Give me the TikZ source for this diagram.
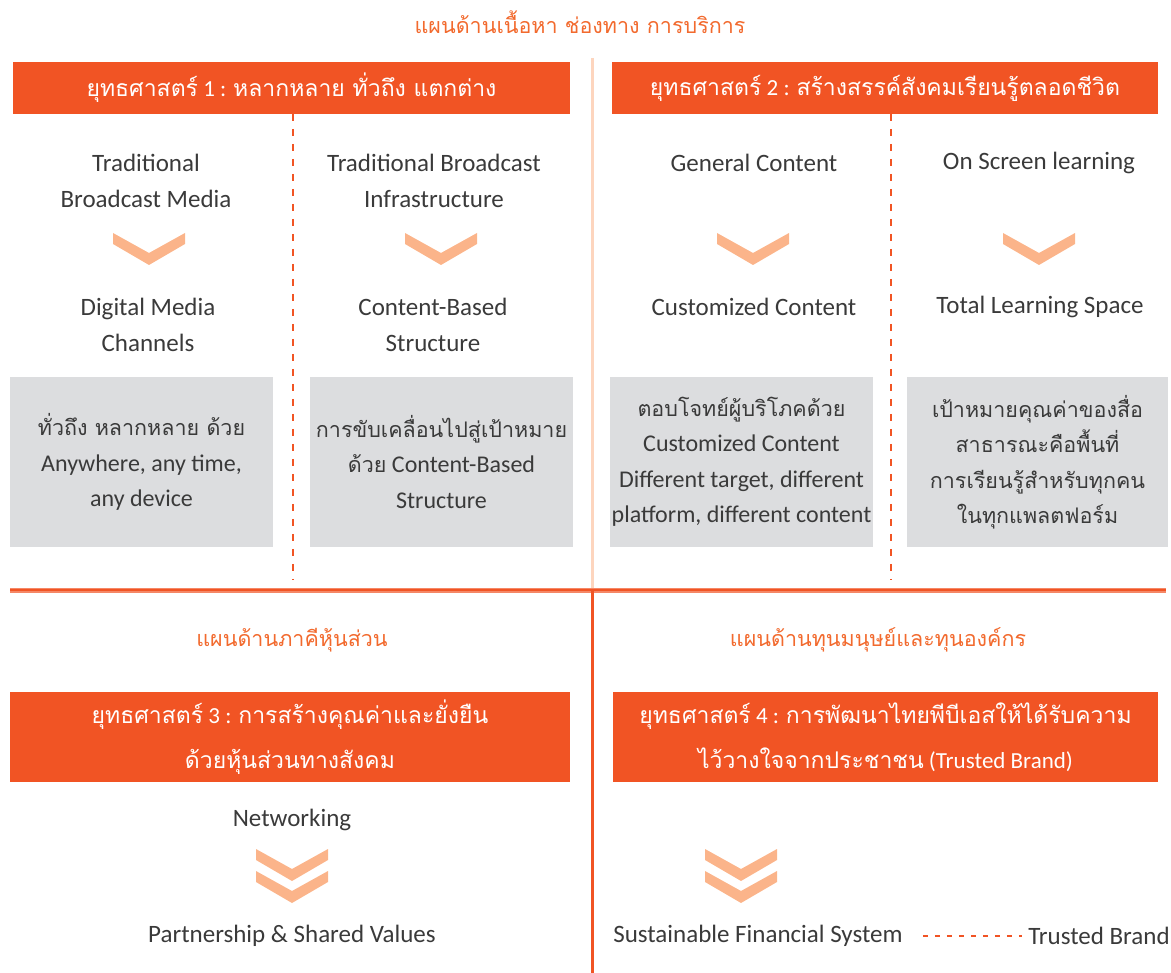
\documentclass[tikz,border=0pt]{standalone}
\usepackage{fontspec}
\setmainfont{Carlito}
\newfontfamily\thai[Script=Thai]{Loma}
\newcommand\thg[1]{{\thai\fontsize{21.5}{35.5}\selectfont #1}}
\definecolor{orng}{HTML}{F15424}
\definecolor{ttl}{HTML}{F26A2E}
\definecolor{peach}{HTML}{FBB48A}
\definecolor{lpeach}{HTML}{FDD5BE}
\definecolor{gbox}{HTML}{DCDDDF}
\definecolor{txt}{HTML}{3A3A3A}
\tikzset{
  lbl/.style={text=txt, align=center, font=\fontsize{25}{36}\selectfont, inner sep=0pt},
  ttlbl/.style={text=ttl, align=center, font=\thai\fontsize{21.5}{30}\selectfont, inner sep=0pt},
  hdr/.style={fill=orng, text=white, align=center, font=\fontsize{23}{45}\selectfont, inner sep=0pt},
  graybox/.style={fill=gbox, inner sep=0pt, minimum height=170pt},
  graytxt/.style={text=txt, align=center, font=\fontsize{24}{35.5}\selectfont, inner sep=0pt},
  dashdiv/.style={orng, line width=1.6pt, dash pattern=on 7pt off 8pt},
  chevron/.pic={\fill[peach] (-36,0)--(0,20)--(36,0)--(36,11)--(0,32)--(-36,11)--cycle;},
  dchevron/.pic={\fill[peach] (-36,0)--(0,20)--(36,0)--(36,11)--(0,32)--(-36,11)--cycle;
                 \fill[peach] (-36,22)--(0,42)--(36,22)--(36,33)--(0,54)--(-36,33)--cycle;}
}
\begin{document}
\begin{tikzpicture}[x=1pt,y=-1pt]
\useasboundingbox (0,0) rectangle (1171,973);
% title
\node[ttlbl] (title) at (580,22) {แผนด้านเนื้อหา ช่องทาง การบริการ};
% header boxes
\node[hdr, minimum width=557pt, minimum height=52pt] (h1) at (291.5,88) {{\thai ยุทธศาสตร์} 1 : {\thai หลากหลาย ทั่วถึง แตกต่าง}};
\node[hdr, minimum width=546pt, minimum height=52pt] (h2) at (885,88) {{\thai ยุทธศาสตร์} 2 : {\thai สร้างสรรค์สังคมเรียนรู้ตลอดชีวิต}};
% dividers
\coordinate (vtop) at (592,58);
\coordinate (vmid) at (592,590);
\coordinate (vbot) at (592,973);
\coordinate (hl) at (10,590);
\coordinate (hr) at (1166,590);
\draw[lpeach, line width=3pt] (vtop) -- (vmid);
\coordinate (d1t) at (293,114); \coordinate (d1b) at (293,580);
\coordinate (d2t) at (891,114); \coordinate (d2b) at (891,580);
\draw[dashdiv] (d1t) -- (d1b);
\draw[dashdiv] (d2t) -- (d2b);
\draw[orng!70, line width=5pt] (hl) -- (hr);
\draw[orng, line width=2.5pt] (hl) -- (hr);
\draw[orng, line width=3pt] (vmid) -- (vbot);
% column texts
\node[lbl] (a1) at (146,181) {Traditional\\Broadcast Media};
\node[lbl] (b1) at (434,181) {Traditional Broadcast\\Infrastructure};
\node[lbl] (c1) at (754,163) {General Content};
\node[lbl] (e1) at (1039,163) {On Screen learning};
\pic at (149,233) {chevron};
\pic at (441,233) {chevron};
\pic at (753,233) {chevron};
\pic at (1039,233) {chevron};
\node[lbl] (a2) at (148,325) {Digital Media\\Channels};
\node[lbl] (b2) at (433,325) {Content-Based\\Structure};
\node[lbl] (c2) at (754,307) {Customized Content};
\node[lbl] (e2) at (1040,307) {Total Learning Space};
% gray boxes
\node[graybox, minimum width=263pt] (g1) at (141.5,462) {};
\node[graybox, minimum width=263pt] (g2) at (441.5,462) {};
\node[graybox, minimum width=263pt] (g3) at (741.5,462) {};
\node[graybox, minimum width=261pt] (g4) at (1037.5,462) {};
\node[graytxt] (t1) at (g1) {\thg{ทั่วถึง หลากหลาย ด้วย}\\Anywhere, any time,\\any device};
\node[graytxt] (t2) at (g2) {\thg{การขับเคลื่อนไปสู่เป้าหมาย}\\\thg{ด้วย} Content-Based\\Structure};
\node[graytxt] (t3) at (g3) {\thg{ตอบโจทย์ผู้บริโภคด้วย}\\Customized Content\\Different target, different\\platform, different content};
\node[graytxt] (t4) at (g4) {\thg{เป้าหมายคุณค่าของสื่อ}\\\thg{สาธารณะคือพื้นที่}\\\thg{การเรียนรู้สำหรับทุกคน}\\\thg{ในทุกแพลตฟอร์ม}};
% bottom section
\node[ttlbl] (p3) at (292,640) {แผนด้านภาคีหุ้นส่วน};
\node[ttlbl] (p4) at (878,640) {แผนด้านทุนมนุษย์และทุนองค์กร};
\node[hdr, minimum width=560pt, minimum height=90pt] (h3) at (290,737) {{\thai ยุทธศาสตร์} 3 : {\thai การสร้างคุณค่าและยั่งยืน}\\{\thai ด้วยหุ้นส่วนทางสังคม}};
\node[hdr, minimum width=545pt, minimum height=90pt] (h4) at (885.5,737) {{\thai ยุทธศาสตร์} 4 : {\thai การพัฒนาไทยพีบีเอสให้ได้รับความ}\\{\thai ไว้วางใจจากประชาชน} (Trusted Brand)};
\node[lbl] (n1) at (292,820) {Networking};
\pic at (292,849) {dchevron};
\node[lbl] (n2) at (292,936) {Partnership \& Shared Values};
\pic at (741,849) {dchevron};
\node[lbl] (s1) at (758,936) {Sustainable Financial System};
\node[lbl] (s2) at (1099,936) {Trusted Brand};
\draw[orng, line width=1.6pt, dash pattern=on 5pt off 7pt, shorten <=20pt, shorten >=6pt] (s1.east) -- (s2.west);
\end{tikzpicture}
\end{document}
